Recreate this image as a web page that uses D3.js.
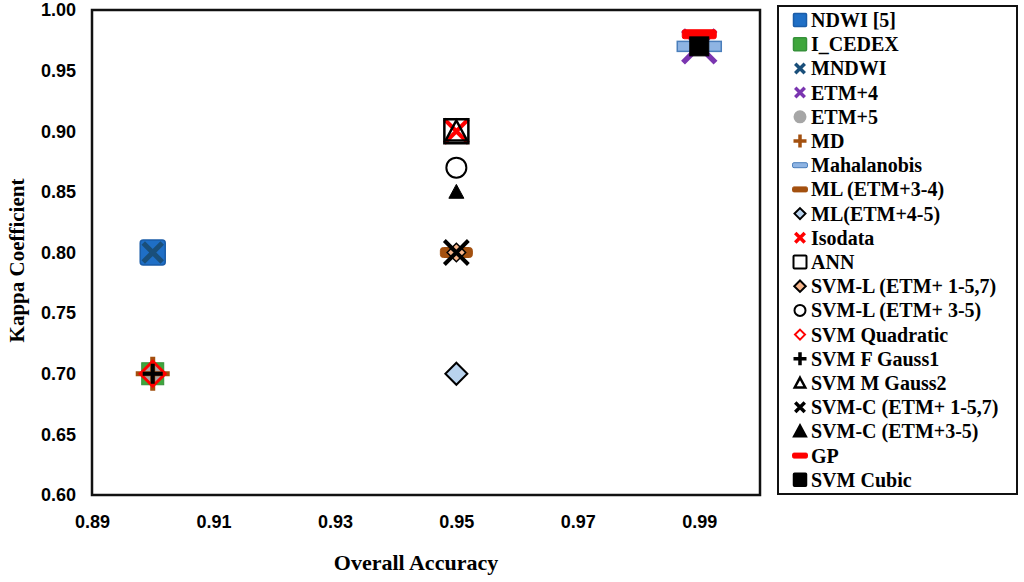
<!DOCTYPE html>
<html>
<head>
<meta charset="utf-8">
<script src="https://cdn.jsdelivr.net/npm/d3@7"></script>
<style>
  body { margin: 0; background: #fff; }
  svg { display: block; font-family: "Liberation Serif", "Times New Roman", serif; font-weight: bold; }
</style>
</head>
<body>
<div id="chart"></div>
<script>
const width = 1024;
const height = 582;
const margin = {top: 10, right: 264, bottom: 87, left: 92};

// data
const seriesNames = [
  "NDWI [5]", "I_CEDEX", "MNDWI", "ETM+4", "ETM+5", "MD", "Mahalanobis",
  "ML (ETM+3-4)", "ML(ETM+4-5)", "Isodata", "ANN", "SVM-L (ETM+ 1-5,7)",
  "SVM-L (ETM+ 3-5)", "SVM Quadratic", "SVM F Gauss1", "SVM M Gauss2",
  "SVM-C (ETM+ 1-5,7)", "SVM-C (ETM+3-5)", "GP", "SVM Cubic"
];
const overallAccuracy = [
  0.90, 0.90, 0.90, 0.99, 0.90, 0.90, 0.99,
  0.95, 0.95, 0.95, 0.95, 0.95,
  0.95, 0.90, 0.90, 0.95,
  0.95, 0.95, 0.99, 0.99
];
const kappaCoefficient = [
  0.80, 0.70, 0.80, 0.97, 0.70, 0.70, 0.97,
  0.80, 0.70, 0.90, 0.90, 0.80,
  0.87, 0.70, 0.70, 0.90,
  0.80, 0.85, 0.98, 0.97
];
const xTicks = [0.89, 0.91, 0.93, 0.95, 0.97, 0.99];
const yTicks = [0.60, 0.65, 0.70, 0.75, 0.80, 0.85, 0.90, 0.95, 1.00];

// marker look per series (same order as seriesNames)
const markerStyles = [
  {shape: 'square', size: 25, fill: '#1f6fc6', stroke: '#1a5ca8', sw: 1.5, rx: 3},
  {shape: 'square', size: 22, fill: '#3fa63c', stroke: '#36913a', sw: 1},
  {shape: 'x', size: 24, stroke: '#1a4f7a', sw: 5},
  {shape: 'x', size: 38, stroke: '#7a35b0', sw: 5.5},
  {shape: 'circle', size: 20, fill: '#a6a6a6', stroke: '#a6a6a6', sw: 1},
  {shape: 'plus', size: 34, stroke: '#a3500f', sw: 5},
  {shape: 'dash', w: 44, h: 10, fill: '#8eb4e3', stroke: '#4a7ebb', sw: 1.5},
  {shape: 'dash', w: 32, h: 10, fill: '#a3500f', stroke: '#a3500f', sw: 1, rx: 3},
  {shape: 'diamond', size: 24, fill: '#b9d3ee', stroke: '#000', sw: 2},
  {shape: 'x', size: 28, stroke: '#ff0000', sw: 4},
  {shape: 'square', size: 24, fill: 'none', stroke: '#000', sw: 2.5},
  {shape: 'diamond', size: 20, fill: '#f7b58a', stroke: '#000', sw: 1.5},
  {shape: 'circle', size: 22, fill: 'none', stroke: '#000', sw: 2},
  {shape: 'diamond', size: 28, fill: 'none', stroke: '#ff0000', sw: 3},
  {shape: 'plus', size: 20, stroke: '#000', sw: 4},
  {shape: 'triangle', size: 24, fill: 'none', stroke: '#000', sw: 2.5},
  {shape: 'x', size: 28, stroke: '#000', sw: 4},
  {shape: 'triangle', size: 16, fill: '#000', stroke: '#000', sw: 1},
  {shape: 'dash', w: 34, h: 9, fill: '#ff0000', stroke: '#ff0000', sw: 1, rx: 2},
  {shape: 'square', size: 19, fill: '#000', stroke: '#000', sw: 1}
];

function drawMarker(g, s, legend) {
  const size = legend ? 13 : s.size;
  const sw = legend ? Math.max(1.5, Math.min(s.sw, 3.5)) : s.sw;
  const h = size / 2;
  if (s.shape === 'square') {
    g.append('rect')
      .attr('x', -h).attr('y', -h).attr('width', size).attr('height', size)
      .attr('rx', legend ? 1 : (s.rx || 0))
      .attr('fill', s.fill).attr('stroke', s.stroke).attr('stroke-width', legend ? Math.min(sw, 2) : sw);
  } else if (s.shape === 'circle') {
    g.append('circle').attr('r', h - sw / 2)
      .attr('fill', s.fill).attr('stroke', s.stroke).attr('stroke-width', sw);
  } else if (s.shape === 'x') {
    const a = h - sw / 2;
    g.append('path')
      .attr('d', `M${-a},${-a}L${a},${a}M${-a},${a}L${a},${-a}`)
      .attr('fill', 'none').attr('stroke', s.stroke).attr('stroke-width', sw);
  } else if (s.shape === 'plus') {
    g.append('path')
      .attr('d', `M${-h},0H${h}M0,${-h}V${h}`)
      .attr('fill', 'none').attr('stroke', s.stroke).attr('stroke-width', sw);
  } else if (s.shape === 'diamond') {
    const a = h - sw / 2;
    g.append('path')
      .attr('d', `M0,${-a}L${a},0L0,${a}L${-a},0Z`)
      .attr('fill', s.fill).attr('stroke', s.stroke).attr('stroke-width', legend ? 2 : sw);
  } else if (s.shape === 'triangle') {
    const a = h - sw / 2;
    g.append('path')
      .attr('d', `M0,${-a}L${a},${a * 0.85}L${-a},${a * 0.85}Z`)
      .attr('fill', s.fill).attr('stroke', s.stroke).attr('stroke-width', legend ? 2.5 : sw)
      .attr('stroke-linejoin', 'miter');
  } else if (s.shape === 'dash') {
    const w = legend ? 15 : s.w;
    const hh = legend ? 5 : s.h;
    g.append('rect')
      .attr('x', -w / 2).attr('y', -hh / 2).attr('width', w).attr('height', hh)
      .attr('rx', legend ? 1.5 : (s.rx || 0))
      .attr('fill', s.fill).attr('stroke', s.stroke).attr('stroke-width', legend ? 1 : s.sw);
  }
}

const svg = d3.select('#chart').append('svg')
  .attr('width', width)
  .attr('height', height);

const xScale = d3.scaleLinear()
  .domain([0.89, 1.0])
  .range([margin.left, width - margin.right]);

const yScale = d3.scaleLinear()
  .domain([0.6, 1.0])
  .range([height - margin.bottom, margin.top]);

// plot frame
svg.append('rect')
  .attr('x', margin.left)
  .attr('y', margin.top)
  .attr('width', width - margin.right - margin.left)
  .attr('height', height - margin.bottom - margin.top)
  .attr('fill', 'none')
  .attr('stroke', '#111')
  .attr('stroke-width', 2.5);

/// axes ///
svg.append('g')
  .attr('transform', `translate(${margin.left},0)`)
  .call(d3.axisLeft(yScale).tickValues(yTicks).tickSize(0).tickPadding(16).tickFormat(d3.format('.2f')))
  .call(g => g.select('.domain').remove())
  .call(g => g.selectAll('text')
    .attr('font-size', '18px').attr('font-family', null).attr('fill', '#000'));

svg.append('g')
  .attr('transform', `translate(0,${height - margin.bottom})`)
  .call(d3.axisBottom(xScale).tickValues(xTicks).tickSize(0).tickPadding(20).tickFormat(d3.format('.2f')))
  .call(g => g.select('.domain').remove())
  .call(g => g.selectAll('text')
    .attr('font-size', '18px').attr('font-family', null).attr('fill', '#000'));

svg.append('text')
  .attr('x', (margin.left + width - margin.right) / 2 - 10)
  .attr('y', 570)
  .attr('text-anchor', 'middle')
  .style('font-size', '22px')
  .text('Overall Accuracy');

svg.append('text')
  .attr('transform', `translate(24,${(margin.top + height - margin.bottom) / 2 + 8}) rotate(-90)`)
  .attr('text-anchor', 'middle')
  .style('font-size', '21px')
  .text('Kappa Coefficient');

/// points, drawn in series order so later ones sit on top ///
seriesNames.forEach((name, i) => {
  const g = svg.append('g')
    .attr('class', 'point')
    .attr('transform', `translate(${xScale(overallAccuracy[i])},${yScale(kappaCoefficient[i])})`);
  drawMarker(g, markerStyles[i], false);
});

/// legend ///
const legendG = svg.append('g');
legendG.append('rect')
  .attr('x', 778).attr('y', 6)
  .attr('width', 239).attr('height', 488)
  .attr('fill', '#fff')
  .attr('stroke', '#111')
  .attr('stroke-width', 2);

const legendItems = legendG.selectAll('g.item')
  .data(seriesNames)
  .join('g')
  .attr('class', 'item')
  .attr('transform', (d, i) => `translate(800,${20 + i * 24.2})`);

legendItems.each(function(d, i) {
  drawMarker(d3.select(this), markerStyles[i], true);
});

legendItems.append('text')
  .attr('x', 11)
  .attr('dy', '0.35em')
  .style('font-size', '20px')
  .text(d => d);
</script>
</body>
</html>
